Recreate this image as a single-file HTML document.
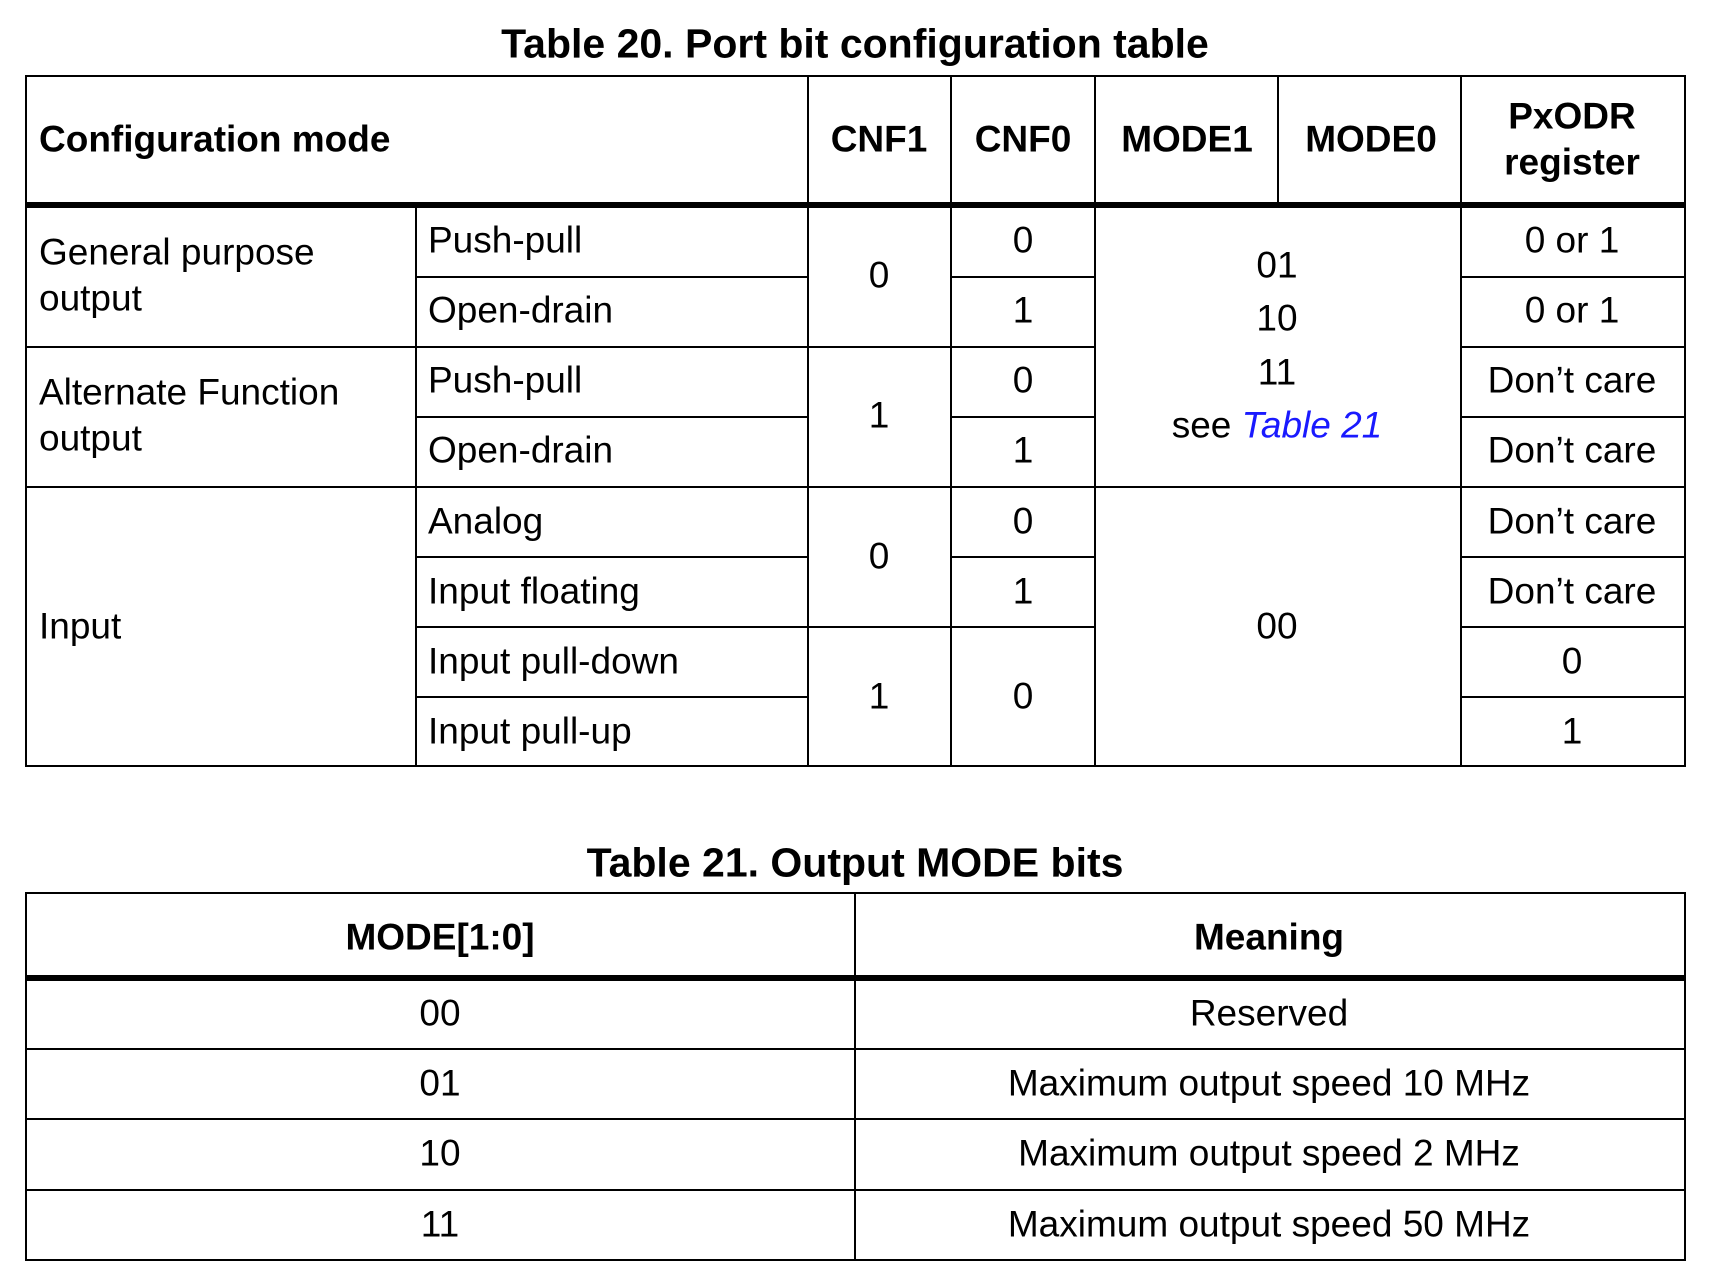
<!DOCTYPE html>
<html><head><meta charset="utf-8"><style>
body{margin:0;width:1710px;height:1286px;background:#fff;position:relative;overflow:hidden;font-family:"Liberation Sans",Arial,sans-serif;color:#000}
.l{position:absolute;background:#000}
.t{position:absolute;font-size:37px;line-height:1;white-space:nowrap;transform:translate(-50%,-50%)}
.tl{position:absolute;font-size:37px;line-height:1;white-space:nowrap;transform:translateY(-50%)}
.b{font-weight:bold}
.ti{font-size:41px}
</style></head><body>
<!-- Table 20 -->
<div class="t b ti" style="left:855px;top:44px">Table 20. Port bit configuration table</div>
<div class="l" style="left:25px;top:75px;width:1661px;height:2px"></div>
<div class="l" style="left:25px;top:765px;width:1661px;height:2px"></div>
<div class="l" style="left:25px;top:75px;width:2px;height:692px"></div>
<div class="l" style="left:1684px;top:75px;width:2px;height:692px"></div>
<div class="l" style="left:25px;top:202px;width:1661px;height:6px"></div>
<div class="l" style="left:415px;top:206px;width:2px;height:561px"></div>
<div class="l" style="left:807px;top:75px;width:2px;height:692px"></div>
<div class="l" style="left:950px;top:75px;width:2px;height:692px"></div>
<div class="l" style="left:1094px;top:75px;width:2px;height:692px"></div>
<div class="l" style="left:1277px;top:75px;width:2px;height:131px"></div>
<div class="l" style="left:1460px;top:75px;width:2px;height:692px"></div>
<!-- horizontals -->
<div class="l" style="left:416px;top:276px;width:392px;height:2px"></div>
<div class="l" style="left:951px;top:276px;width:144px;height:2px"></div>
<div class="l" style="left:1461px;top:276px;width:225px;height:2px"></div>
<div class="l" style="left:25px;top:346px;width:1070px;height:2px"></div>
<div class="l" style="left:1461px;top:346px;width:225px;height:2px"></div>
<div class="l" style="left:416px;top:416px;width:392px;height:2px"></div>
<div class="l" style="left:951px;top:416px;width:144px;height:2px"></div>
<div class="l" style="left:1461px;top:416px;width:225px;height:2px"></div>
<div class="l" style="left:25px;top:486px;width:1661px;height:2px"></div>
<div class="l" style="left:416px;top:556px;width:392px;height:2px"></div>
<div class="l" style="left:951px;top:556px;width:144px;height:2px"></div>
<div class="l" style="left:1461px;top:556px;width:225px;height:2px"></div>
<div class="l" style="left:416px;top:626px;width:679px;height:2px"></div>
<div class="l" style="left:1461px;top:626px;width:225px;height:2px"></div>
<div class="l" style="left:416px;top:696px;width:392px;height:2px"></div>
<div class="l" style="left:1461px;top:696px;width:225px;height:2px"></div>
<!-- header -->
<div class="tl b" style="left:39px;top:139px">Configuration mode</div>
<div class="t b" style="left:879px;top:139px">CNF1</div>
<div class="t b" style="left:1023px;top:139px">CNF0</div>
<div class="t b" style="left:1187px;top:139px">MODE1</div>
<div class="t b" style="left:1371px;top:139px">MODE0</div>
<div class="t b" style="left:1572px;top:116px">PxODR</div>
<div class="t b" style="left:1572px;top:162px">register</div>
<!-- col1 -->
<div class="tl" style="left:39px;top:252px">General purpose</div>
<div class="tl" style="left:39px;top:298px">output</div>
<div class="tl" style="left:39px;top:392px">Alternate Function</div>
<div class="tl" style="left:39px;top:438px">output</div>
<div class="tl" style="left:39px;top:626px">Input</div>
<!-- col2 -->
<div class="tl" style="left:428px;top:240px">Push-pull</div>
<div class="tl" style="left:428px;top:310px">Open-drain</div>
<div class="tl" style="left:428px;top:380px">Push-pull</div>
<div class="tl" style="left:428px;top:450px">Open-drain</div>
<div class="tl" style="left:428px;top:521px">Analog</div>
<div class="tl" style="left:428px;top:591px">Input floating</div>
<div class="tl" style="left:428px;top:661px">Input pull-down</div>
<div class="tl" style="left:428px;top:731px">Input pull-up</div>
<!-- CNF1 -->
<div class="t" style="left:879px;top:275px">0</div>
<div class="t" style="left:879px;top:415px">1</div>
<div class="t" style="left:879px;top:556px">0</div>
<div class="t" style="left:879px;top:696px">1</div>
<!-- CNF0 -->
<div class="t" style="left:1023px;top:240px">0</div>
<div class="t" style="left:1023px;top:310px">1</div>
<div class="t" style="left:1023px;top:380px">0</div>
<div class="t" style="left:1023px;top:450px">1</div>
<div class="t" style="left:1023px;top:521px">0</div>
<div class="t" style="left:1023px;top:591px">1</div>
<div class="t" style="left:1023px;top:696px">0</div>
<!-- MODE -->
<div class="t" style="left:1277px;top:265px">01</div>
<div class="t" style="left:1277px;top:318px">10</div>
<div class="t" style="left:1277px;top:372px">11</div>
<div class="t" style="left:1277px;top:425px">see <i style="color:#1a1aff">Table 21</i></div>
<div class="t" style="left:1277px;top:626px">00</div>
<!-- PxODR -->
<div class="t" style="left:1572px;top:240px">0 or 1</div>
<div class="t" style="left:1572px;top:310px">0 or 1</div>
<div class="t" style="left:1572px;top:380px">Don’t care</div>
<div class="t" style="left:1572px;top:450px">Don’t care</div>
<div class="t" style="left:1572px;top:521px">Don’t care</div>
<div class="t" style="left:1572px;top:591px">Don’t care</div>
<div class="t" style="left:1572px;top:661px">0</div>
<div class="t" style="left:1572px;top:731px">1</div>

<!-- Table 21 -->
<div class="t b ti" style="left:855px;top:863px">Table 21. Output MODE bits</div>
<div class="l" style="left:25px;top:892px;width:1661px;height:2px"></div>
<div class="l" style="left:25px;top:1259px;width:1661px;height:2px"></div>
<div class="l" style="left:25px;top:892px;width:2px;height:369px"></div>
<div class="l" style="left:1684px;top:892px;width:2px;height:369px"></div>
<div class="l" style="left:854px;top:892px;width:2px;height:369px"></div>
<div class="l" style="left:25px;top:975px;width:1661px;height:6px"></div>
<div class="l" style="left:25px;top:1048px;width:1661px;height:2px"></div>
<div class="l" style="left:25px;top:1118px;width:1661px;height:2px"></div>
<div class="l" style="left:25px;top:1189px;width:1661px;height:2px"></div>
<div class="t b" style="left:440px;top:937px">MODE[1:0]</div>
<div class="t b" style="left:1269px;top:937px">Meaning</div>
<div class="t" style="left:440px;top:1013px">00</div>
<div class="t" style="left:440px;top:1083px">01</div>
<div class="t" style="left:440px;top:1153px">10</div>
<div class="t" style="left:440px;top:1224px">11</div>
<div class="t" style="left:1269px;top:1013px">Reserved</div>
<div class="t" style="left:1269px;top:1083px">Maximum output speed 10 MHz</div>
<div class="t" style="left:1269px;top:1153px">Maximum output speed 2 MHz</div>
<div class="t" style="left:1269px;top:1224px">Maximum output speed 50 MHz</div>
</body></html>
